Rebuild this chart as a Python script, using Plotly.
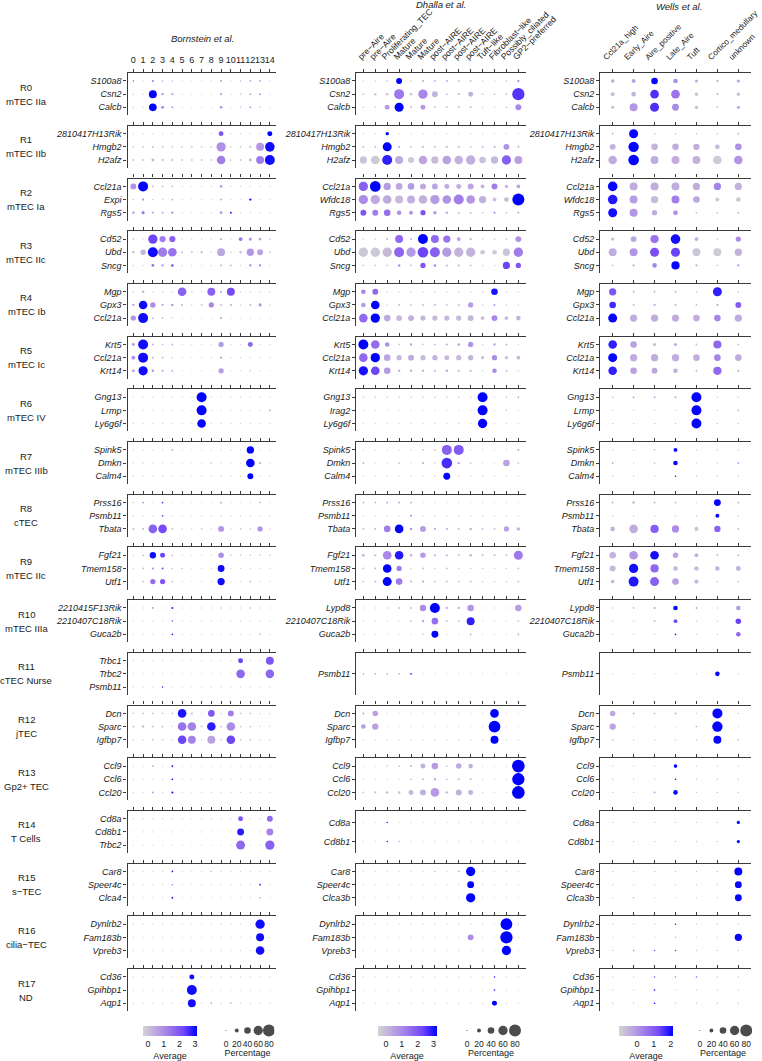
import plotly.graph_objects as go

W, H = 762, 1061

panel_ids = ["R0", "R1", "R2", "R3", "R4", "R5", "R6", "R7", "R8", "R9",
             "R10", "R11", "R12", "R13", "R14", "R15", "R16", "R17"]
panel_names = ["mTEC IIa", "mTEC IIb", "mTEC Ia", "mTEC IIc", "mTEC Ib", "mTEC Ic",
               "mTEC IV", "mTEC IIIb", "cTEC", "mTEC IIc", "mTEC IIIa", "cTEC Nurse",
               "jTEC", "Gp2+ TEC", "T Cells", "s\u2212TEC", "cilia\u2212TEC", "ND"]

bornstein_groups = ["0", "1", "2", "3", "4", "5", "6", "7", "8", "9", "10", "11", "12", "13", "14"]
dhalla_groups = ["pre\u2212Aire", "pre\u2212Aire", "Proliferating_TEC", "Mature", "Mature", "Mature",
                 "post\u2212AIRE", "post\u2212AIRE", "post\u2212AIRE", "post\u2212AIRE", "Tuft\u2212like",
                 "Fibroblast\u2212like", "Possibly_ciliated", "GP2\u2212preferred"]
wells_groups = ["Ccl21a_high", "Early_Aire", "Aire_positive", "Late_Aire", "Tuft",
                "Cortico_medullary", "unknown"]

bornstein_genes = [
    ["S100a8", "Csn2", "Calcb"], ["2810417H13Rik", "Hmgb2", "H2afz"], ["Ccl21a", "Expi", "Rgs5"],
    ["Cd52", "Ubd", "Sncg"], ["Mgp", "Gpx3", "Ccl21a"], ["Krt5", "Ccl21a", "Krt14"],
    ["Gng13", "Lrmp", "Ly6g6f"], ["Spink5", "Dmkn", "Calm4"], ["Prss16", "Psmb11", "Tbata"],
    ["Fgf21", "Tmem158", "Utf1"], ["2210415F13Rik", "2210407C18Rik", "Guca2b"], ["Trbc1", "Trbc2", "Psmb11"],
    ["Dcn", "Sparc", "Igfbp7"], ["Ccl9", "Ccl6", "Ccl20"], ["Cd8a", "Cd8b1", "Trbc2"],
    ["Car8", "Speer4c", "Clca4"], ["Dynlrb2", "Fam183b", "Vpreb3"], ["Cd36", "Gpihbp1", "Aqp1"]]
dhalla_genes = [
    ["S100a8", "Csn2", "Calcb"], ["2810417H13Rik", "Hmgb2", "H2afz"], ["Ccl21a", "Wfdc18", "Rgs5"],
    ["Cd52", "Ubd", "Sncg"], ["Mgp", "Gpx3", "Ccl21a"], ["Krt5", "Ccl21a", "Krt14"],
    ["Gng13", "Irag2", "Ly6g6f"], ["Spink5", "Dmkn", "Calm4"], ["Prss16", "Psmb11", "Tbata"],
    ["Fgf21", "Tmem158", "Utf1"], ["Lypd8", "2210407C18Rik", "Guca2b"], ["Psmb11"],
    ["Dcn", "Sparc", "Igfbp7"], ["Ccl9", "Ccl6", "Ccl20"], ["Cd8a", "Cd8b1"],
    ["Car8", "Speer4c", "Clca3b"], ["Dynlrb2", "Fam183b", "Vpreb3"], ["Cd36", "Gpihbp1", "Aqp1"]]
wells_genes = [
    ["S100a8", "Csn2", "Calcb"], ["2810417H13Rik", "Hmgb2", "H2afz"], ["Ccl21a", "Wfdc18", "Rgs5"],
    ["Cd52", "Ubd", "Sncg"], ["Mgp", "Gpx3", "Ccl21a"], ["Krt5", "Ccl21a", "Krt14"],
    ["Gng13", "Lrmp", "Ly6g6f"], ["Spink5", "Dmkn", "Calm4"], ["Prss16", "Psmb11", "Tbata"],
    ["Fgf21", "Tmem158", "Utf1"], ["Lypd8", "2210407C18Rik", "Guca2b"], ["Psmb11"],
    ["Dcn", "Sparc", "Igfbp7"], ["Ccl9", "Ccl6", "Ccl20"], ["Cd8a", "Cd8b1"],
    ["Car8", "Speer4c", "Clca3b"], ["Dynlrb2", "Fam183b", "Vpreb3"], ["Cd36", "Gpihbp1", "Aqp1"]]

# ---- Bornstein et al.: percentage expressing / average (scaled) expression ----
bornstein_pct = [
    [[2, 1, 5, 3, 3, 1, 1, 1, 1, 5, 1, 2, 4, 4, 1],
     [2, 2, 50, 8, 7, 1, 1, 1, 1, 8, 1, 2, 6, 6, 1],
     [2, 2, 48, 12, 5, 1, 1, 1, 1, 12, 1, 2, 5, 2, 1]],
    [[1, 1, 1, 1, 1, 1, 1, 1, 1, 26, 1, 1, 1, 1, 28],
     [4, 5, 7, 6, 6, 5, 5, 5, 5, 60, 3, 5, 8, 50, 62],
     [6, 7, 12, 8, 8, 6, 6, 6, 6, 55, 4, 6, 12, 50, 65]],
    [[35, 65, 4, 4, 4, 1, 1, 1, 1, 12, 1, 1, 1, 1, 1],
     [2, 8, 2, 2, 4, 1, 1, 1, 1, 5, 1, 1, 8, 1, 1],
     [8, 15, 8, 6, 8, 1, 1, 1, 1, 12, 5, 1, 1, 1, 1]],
    [[4, 2, 60, 37, 37, 2, 2, 2, 2, 8, 2, 20, 15, 12, 4],
     [8, 30, 65, 60, 55, 6, 6, 8, 3, 50, 3, 10, 45, 35, 6],
     [2, 2, 12, 8, 10, 2, 2, 2, 2, 5, 4, 2, 8, 8, 1]],
    [[3, 10, 2, 2, 2, 55, 3, 2, 50, 8, 50, 2, 2, 2, 2],
     [8, 55, 32, 8, 10, 6, 2, 4, 30, 5, 5, 2, 6, 15, 2],
     [30, 65, 5, 5, 2, 1, 1, 1, 1, 8, 1, 1, 1, 1, 1]],
    [[12, 65, 6, 4, 5, 1, 1, 1, 1, 30, 1, 1, 28, 1, 1],
     [20, 65, 5, 5, 2, 1, 1, 1, 1, 8, 1, 1, 1, 1, 1],
     [10, 60, 10, 8, 5, 1, 1, 1, 1, 30, 1, 1, 2, 1, 1]],
    [[1, 1, 1, 1, 1, 1, 1, 65, 1, 1, 1, 1, 1, 1, 1],
     [1, 1, 1, 1, 1, 1, 1, 65, 1, 1, 1, 1, 1, 1, 6],
     [1, 1, 1, 1, 1, 1, 1, 55, 1, 1, 1, 1, 1, 1, 1]],
    [[1, 1, 1, 1, 4, 1, 1, 1, 1, 1, 1, 1, 45, 1, 1],
     [1, 2, 1, 1, 1, 1, 1, 1, 3, 1, 1, 1, 55, 8, 1],
     [1, 1, 1, 1, 1, 1, 1, 1, 1, 1, 1, 1, 35, 1, 1]],
    [[2, 4, 1, 4, 1, 1, 1, 1, 1, 4, 1, 1, 1, 3, 1],
     [1, 1, 1, 4, 1, 1, 1, 1, 1, 1, 1, 1, 1, 1, 1],
     [6, 6, 55, 55, 5, 2, 2, 4, 2, 35, 2, 4, 3, 30, 2]],
    [[1, 4, 38, 28, 4, 1, 1, 1, 1, 32, 3, 3, 3, 3, 3],
     [1, 4, 6, 6, 3, 3, 1, 1, 1, 42, 1, 1, 1, 1, 1],
     [1, 4, 30, 30, 4, 1, 1, 1, 1, 45, 1, 1, 4, 1, 1]],
    [[1, 1, 4, 1, 6, 1, 1, 1, 1, 3, 1, 1, 3, 1, 1],
     [1, 1, 1, 1, 3, 1, 1, 1, 1, 1, 1, 1, 1, 1, 1],
     [1, 1, 1, 1, 4, 1, 1, 1, 1, 1, 1, 1, 1, 3, 1]],
    [[1, 1, 1, 1, 1, 1, 1, 1, 1, 1, 1, 28, 1, 1, 50],
     [1, 1, 1, 1, 1, 1, 1, 1, 1, 1, 1, 55, 1, 1, 55],
     [1, 1, 1, 3, 1, 1, 1, 1, 1, 1, 1, 1, 1, 1, 1]],
    [[3, 4, 4, 4, 4, 55, 6, 2, 40, 2, 35, 4, 4, 2, 2],
     [6, 10, 6, 5, 2, 55, 55, 5, 55, 5, 55, 4, 4, 2, 2],
     [2, 2, 4, 4, 2, 55, 50, 2, 50, 4, 55, 4, 4, 2, 2]],
    [[1, 1, 3, 1, 5, 1, 1, 1, 1, 1, 1, 1, 1, 1, 1],
     [1, 1, 1, 1, 4, 1, 1, 1, 1, 1, 1, 1, 1, 1, 1],
     [1, 1, 4, 1, 6, 1, 1, 1, 1, 1, 1, 1, 1, 1, 1]],
    [[1, 1, 1, 1, 1, 1, 1, 1, 1, 1, 1, 28, 1, 1, 35],
     [1, 1, 1, 1, 1, 1, 1, 1, 1, 1, 1, 42, 1, 1, 42],
     [1, 1, 1, 1, 1, 1, 1, 1, 1, 1, 1, 58, 1, 1, 60]],
    [[1, 1, 1, 1, 4, 1, 1, 1, 3, 1, 1, 1, 1, 1, 1],
     [1, 1, 1, 1, 2, 1, 1, 1, 1, 1, 1, 1, 1, 4, 1],
     [1, 1, 1, 1, 5, 1, 1, 1, 1, 1, 1, 1, 1, 3, 1]],
    [[1, 1, 1, 1, 1, 1, 1, 1, 1, 1, 1, 1, 1, 60, 1],
     [1, 1, 1, 1, 1, 1, 1, 1, 1, 1, 1, 1, 1, 50, 1],
     [1, 1, 1, 1, 1, 1, 1, 1, 1, 1, 1, 1, 1, 55, 1]],
    [[1, 1, 1, 1, 1, 1, 28, 1, 1, 1, 1, 1, 1, 1, 1],
     [1, 1, 1, 1, 1, 1, 65, 1, 1, 1, 1, 1, 1, 1, 1],
     [1, 1, 1, 1, 1, 1, 50, 1, 4, 1, 4, 1, 1, 1, 1]]]

bornstein_avg = [
    [[2.2, -0.3, 1.4, 0.6, 0.4, -0.3, -0.3, -0.3, -0.3, 0.8, -0.3, 0.2, 0.8, 0.8, -0.3],
     [-0.2, -0.2, 3.1, 1.0, 0.8, -0.3, -0.3, -0.3, -0.3, 0.6, -0.3, 0.0, 0.5, 0.8, -0.3],
     [-0.2, -0.2, 3.1, 1.2, 0.8, -0.3, -0.3, -0.3, -0.3, 0.8, -0.3, 0.0, 0.7, 0.0, -0.3]],
    [[-0.3, -0.3, -0.3, -0.3, -0.3, -0.3, -0.3, -0.3, -0.3, 2.1, -0.3, -0.3, -0.3, -0.3, 3.1],
     [-0.2, -0.1, 0.0, -0.1, -0.1, -0.1, -0.1, -0.1, -0.1, 0.9, -0.2, -0.1, 0.0, 0.8, 3.0],
     [-0.1, -0.1, 0.2, 0.0, 0.0, -0.1, -0.1, -0.1, -0.1, 1.3, -0.2, -0.1, 0.3, 1.3, 3.0]],
    [[0.9, 3.1, 0.2, 0.2, 0.2, -0.3, -0.3, -0.3, -0.3, 0.6, -0.3, -0.3, -0.3, -0.3, -0.3],
     [0.0, 1.0, -0.1, -0.1, 0.5, -0.3, -0.3, -0.3, -0.3, 0.5, -0.3, -0.3, 3.0, -0.3, -0.3],
     [1.0, 1.3, 0.5, 0.5, 1.0, -0.3, -0.3, -0.3, -0.3, 0.8, 2.8, -0.3, -0.3, -0.3, -0.3]],
    [[0.1, -0.2, 2.3, 1.3, 1.8, -0.2, -0.2, -0.2, -0.2, 0.3, -0.2, 1.4, 0.8, 0.6, -0.1],
     [0.2, 0.3, 3.0, 1.3, 1.5, 0.0, 0.0, 0.1, -0.2, 0.5, -0.2, 0.0, 0.8, 0.6, -0.1],
     [-0.2, -0.2, 1.5, 1.0, 2.2, -0.2, -0.2, -0.2, -0.2, 0.5, 0.4, -0.2, 1.2, 1.2, -0.3]],
    [[-0.2, 0.3, -0.2, -0.2, -0.2, 1.8, 0.0, -0.2, 1.8, 0.4, 2.2, -0.2, -0.2, -0.2, -0.2],
     [0.6, 3.0, 0.9, 0.4, 0.7, 0.4, -0.2, 0.1, 1.1, 0.2, 0.6, -0.2, 0.3, 0.8, -0.2],
     [0.9, 3.0, 0.3, 0.3, -0.1, -0.3, -0.3, -0.3, -0.3, 0.5, -0.3, -0.3, -0.3, -0.3, -0.3]],
    [[0.8, 3.0, 0.3, 0.2, 0.3, -0.3, -0.3, -0.3, -0.3, 0.7, -0.3, -0.3, 1.7, -0.3, -0.3],
     [0.9, 3.0, 0.3, 0.3, -0.1, -0.3, -0.3, -0.3, -0.3, 0.5, -0.3, -0.3, -0.3, -0.3, -0.3],
     [1.0, 3.0, 0.8, 0.5, 0.3, -0.3, -0.3, -0.3, -0.3, 0.7, -0.3, -0.3, 0.0, -0.3, -0.3]],
    [[-0.3, -0.3, -0.3, -0.3, -0.3, -0.3, -0.3, 3.1, -0.3, -0.3, -0.3, -0.3, -0.3, -0.3, -0.3],
     [-0.3, -0.3, -0.3, -0.3, -0.3, -0.3, -0.3, 3.1, -0.3, -0.3, -0.3, -0.3, -0.3, -0.3, 0.3],
     [-0.3, -0.3, -0.3, -0.3, -0.3, -0.3, -0.3, 3.1, -0.3, -0.3, -0.3, -0.3, -0.3, -0.3, -0.3]],
    [[-0.3, -0.3, -0.3, -0.3, 0.6, -0.3, -0.3, -0.3, -0.3, -0.3, -0.3, -0.3, 3.1, -0.3, -0.3],
     [-0.3, -0.1, -0.3, -0.3, -0.3, -0.3, -0.3, -0.3, 0.2, -0.3, -0.3, -0.3, 3.1, 0.4, -0.3],
     [-0.3, -0.3, -0.3, -0.3, -0.3, -0.3, -0.3, -0.3, -0.3, -0.3, -0.3, -0.3, 3.1, -0.3, -0.3]],
    [[0.0, 1.2, -0.3, 2.5, -0.3, -0.3, -0.3, -0.3, -0.3, 1.0, -0.3, -0.3, -0.3, 0.9, -0.3],
     [-0.3, -0.3, -0.3, 2.5, -0.3, -0.3, -0.3, -0.3, -0.3, -0.3, -0.3, -0.3, -0.3, -0.3, -0.3],
     [0.2, 0.2, 1.8, 2.2, 0.2, -0.2, -0.2, 0.0, -0.2, 0.8, -0.2, 0.0, -0.1, 0.8, -0.2]],
    [[-0.3, 0.2, 3.0, 2.3, 0.4, -0.3, -0.3, -0.3, -0.3, 1.0, 0.0, 0.0, 0.0, 0.0, 0.0],
     [-0.3, 0.3, 1.2, 2.2, 0.3, 0.3, -0.3, -0.3, -0.3, 3.0, -0.3, -0.3, -0.3, -0.3, -0.3],
     [-0.3, 0.2, 1.6, 2.0, 0.2, -0.3, -0.3, -0.3, -0.3, 3.0, -0.3, -0.3, 0.4, -0.3, -0.3]],
    [[-0.3, -0.3, 1.0, -0.3, 2.8, -0.3, -0.3, -0.3, -0.3, 0.3, -0.3, -0.3, 0.5, -0.3, -0.3],
     [-0.3, -0.3, -0.3, -0.3, 1.8, -0.3, -0.3, -0.3, -0.3, -0.3, -0.3, -0.3, -0.3, -0.3, -0.3],
     [-0.3, -0.3, -0.3, -0.3, 2.8, -0.3, -0.3, -0.3, -0.3, -0.3, -0.3, -0.3, -0.3, 0.6, -0.3]],
    [[-0.3, -0.3, -0.3, -0.3, -0.3, -0.3, -0.3, -0.3, -0.3, -0.3, -0.3, 2.3, -0.3, -0.3, 2.0],
     [-0.3, -0.3, -0.3, -0.3, -0.3, -0.3, -0.3, -0.3, -0.3, -0.3, -0.3, 1.7, -0.3, -0.3, 1.7],
     [-0.3, -0.3, -0.3, 2.8, -0.3, -0.3, -0.3, -0.3, -0.3, -0.3, -0.3, -0.3, -0.3, -0.3, -0.3]],
    [[-0.1, 0.0, 0.0, 0.0, 0.0, 2.9, 0.2, -0.2, 2.0, -0.2, 1.3, 0.0, 0.0, -0.2, -0.2],
     [0.0, 0.1, 0.0, 0.0, -0.2, 1.5, 1.2, 0.0, 2.8, 0.0, 1.0, 0.0, 0.0, -0.2, -0.2],
     [-0.2, -0.2, 0.0, 0.0, -0.2, 2.3, 1.2, -0.2, 0.6, 0.0, 2.3, 0.0, 0.0, -0.2, -0.2]],
    [[-0.3, -0.3, 1.0, -0.3, 3.0, -0.3, -0.3, -0.3, -0.3, -0.3, -0.3, -0.3, -0.3, -0.3, -0.3],
     [-0.3, -0.3, -0.3, -0.3, 3.0, -0.3, -0.3, -0.3, -0.3, -0.3, -0.3, -0.3, -0.3, -0.3, -0.3],
     [-0.3, -0.3, 1.0, -0.3, 3.0, -0.3, -0.3, -0.3, -0.3, -0.3, -0.3, -0.3, -0.3, -0.3, -0.3]],
    [[-0.3, -0.3, -0.3, -0.3, -0.3, -0.3, -0.3, -0.3, -0.3, -0.3, -0.3, 2.0, -0.3, -0.3, 1.6],
     [-0.3, -0.3, -0.3, -0.3, -0.3, -0.3, -0.3, -0.3, -0.3, -0.3, -0.3, 2.8, -0.3, -0.3, 1.2],
     [-0.3, -0.3, -0.3, -0.3, -0.3, -0.3, -0.3, -0.3, -0.3, -0.3, -0.3, 1.7, -0.3, -0.3, 1.8]],
    [[-0.3, -0.3, -0.3, -0.3, 2.8, -0.3, -0.3, -0.3, 0.3, -0.3, -0.3, -0.3, -0.3, -0.3, -0.3],
     [-0.3, -0.3, -0.3, -0.3, 1.5, -0.3, -0.3, -0.3, -0.3, -0.3, -0.3, -0.3, -0.3, 2.8, -0.3],
     [-0.3, -0.3, -0.3, -0.3, 2.8, -0.3, -0.3, -0.3, -0.3, -0.3, -0.3, -0.3, -0.3, 1.0, -0.3]],
    [[-0.3, -0.3, -0.3, -0.3, -0.3, -0.3, -0.3, -0.3, -0.3, -0.3, -0.3, -0.3, -0.3, 3.0, -0.3],
     [-0.3, -0.3, -0.3, -0.3, -0.3, -0.3, -0.3, -0.3, -0.3, -0.3, -0.3, -0.3, -0.3, 3.0, -0.3],
     [-0.3, -0.3, -0.3, -0.3, -0.3, -0.3, -0.3, -0.3, -0.3, -0.3, -0.3, -0.3, -0.3, 3.0, -0.3]],
    [[-0.3, -0.3, -0.3, -0.3, -0.3, -0.3, 3.0, -0.3, -0.3, -0.3, -0.3, -0.3, -0.3, -0.3, -0.3],
     [-0.3, -0.3, -0.3, -0.3, -0.3, -0.3, 3.0, -0.3, -0.3, -0.3, -0.3, -0.3, -0.3, -0.3, -0.3],
     [-0.3, -0.3, -0.3, -0.3, -0.3, -0.3, 3.0, -0.3, 0.5, -0.3, 0.3, -0.3, -0.3, -0.3, -0.3]]]

# ---- Dhalla et al. ----
dhalla_pct = [
    [[2, 2, 4, 35, 3, 5, 5, 5, 4, 4, 2, 2, 3, 8],
     [4, 10, 10, 65, 10, 60, 35, 6, 8, 28, 5, 5, 6, 82],
     [3, 3, 28, 58, 6, 28, 5, 5, 6, 6, 2, 2, 4, 35]],
    [[1, 1, 16, 1, 1, 1, 1, 1, 1, 1, 1, 1, 1, 1],
     [6, 6, 58, 8, 5, 7, 6, 7, 7, 5, 6, 8, 35, 6],
     [45, 55, 65, 50, 35, 55, 45, 55, 55, 60, 40, 45, 60, 50]],
    [[60, 70, 45, 40, 40, 35, 35, 28, 28, 35, 20, 35, 15, 20],
     [60, 60, 55, 50, 50, 55, 60, 55, 65, 55, 45, 20, 25, 80],
     [35, 35, 40, 25, 20, 30, 15, 10, 5, 5, 4, 6, 4, 5]],
    [[3, 3, 6, 50, 6, 65, 50, 45, 20, 8, 2, 3, 4, 35],
     [60, 60, 60, 65, 60, 70, 65, 60, 60, 60, 25, 25, 45, 60],
     [3, 3, 3, 10, 5, 30, 10, 6, 6, 4, 2, 2, 45, 30]],
    [[25, 35, 2, 2, 3, 2, 2, 2, 2, 2, 2, 40, 2, 2],
     [25, 55, 2, 5, 4, 5, 6, 4, 5, 30, 2, 6, 2, 2],
     [55, 60, 40, 35, 35, 30, 30, 30, 30, 35, 20, 35, 20, 25]],
    [[65, 55, 25, 4, 8, 4, 5, 6, 10, 30, 2, 8, 6, 2],
     [55, 60, 40, 30, 35, 30, 30, 28, 30, 30, 15, 30, 15, 20],
     [60, 55, 40, 10, 10, 10, 8, 10, 8, 8, 2, 25, 6, 2]],
    [[3, 3, 3, 3, 3, 3, 3, 3, 3, 3, 65, 1, 3, 5],
     [1, 1, 1, 1, 1, 1, 1, 1, 1, 1, 65, 1, 3, 1],
     [1, 1, 1, 1, 1, 1, 1, 1, 1, 1, 60, 1, 1, 1]],
    [[1, 1, 1, 1, 1, 4, 4, 65, 65, 1, 1, 1, 1, 6],
     [5, 1, 1, 4, 1, 8, 2, 70, 8, 4, 1, 1, 40, 4],
     [1, 1, 1, 1, 1, 1, 1, 42, 1, 1, 1, 1, 1, 1]],
    [[3, 3, 3, 3, 3, 1, 1, 1, 1, 1, 1, 1, 1, 1],
     [1, 1, 1, 1, 3, 1, 1, 1, 1, 1, 1, 1, 1, 1],
     [5, 6, 40, 55, 10, 35, 8, 8, 6, 10, 5, 5, 30, 15]],
    [[12, 8, 55, 55, 10, 32, 8, 8, 6, 10, 6, 6, 5, 58],
     [4, 5, 55, 30, 2, 5, 2, 4, 2, 2, 2, 2, 2, 4],
     [4, 5, 58, 40, 6, 8, 5, 6, 4, 5, 2, 2, 2, 5]],
    [[1, 1, 2, 5, 5, 38, 65, 8, 8, 40, 1, 1, 1, 40],
     [1, 1, 1, 1, 4, 8, 40, 5, 4, 50, 1, 1, 1, 4],
     [1, 1, 1, 1, 1, 3, 42, 1, 1, 4, 1, 1, 1, 4]],
    [[3, 3, 3, 3, 4, 1, 1, 1, 1, 1, 1, 1, 1, 1]],
    [[6, 32, 1, 1, 1, 1, 1, 1, 1, 1, 1, 55, 1, 1],
     [25, 38, 1, 1, 1, 1, 1, 1, 1, 1, 1, 78, 1, 1],
     [1, 1, 1, 1, 1, 1, 1, 1, 1, 1, 1, 50, 1, 1]],
    [[1, 1, 3, 4, 6, 28, 40, 5, 32, 25, 1, 1, 1, 85],
     [1, 1, 1, 1, 4, 5, 8, 4, 6, 5, 1, 1, 1, 82],
     [4, 8, 10, 10, 28, 35, 55, 10, 35, 28, 1, 1, 1, 85]],
    [[1, 1, 2, 1, 1, 1, 1, 1, 1, 1, 1, 1, 1, 1],
     [1, 1, 2, 1, 1, 1, 1, 1, 1, 1, 1, 1, 1, 1]],
    [[1, 1, 1, 1, 1, 1, 3, 1, 4, 60, 1, 1, 1, 1],
     [1, 1, 1, 1, 1, 1, 1, 1, 1, 42, 1, 1, 1, 1],
     [1, 1, 1, 1, 1, 1, 1, 1, 1, 60, 1, 1, 1, 1]],
    [[1, 1, 1, 1, 1, 1, 1, 1, 1, 1, 1, 1, 78, 1],
     [1, 1, 1, 1, 1, 1, 1, 1, 1, 35, 1, 1, 82, 1],
     [1, 1, 1, 1, 1, 1, 1, 1, 1, 1, 1, 1, 60, 1]],
    [[1, 1, 1, 1, 1, 1, 1, 1, 1, 1, 1, 2, 1, 1],
     [1, 1, 1, 1, 1, 1, 1, 1, 1, 1, 1, 3, 1, 1],
     [1, 1, 1, 1, 1, 1, 1, 1, 1, 1, 1, 28, 1, 1]]]

dhalla_avg = [
    [[-0.4, -0.4, -0.2, 3.2, -0.2, 0.5, 0.2, 0.5, 0.1, 0.2, -0.4, -0.4, 0.0, 0.8],
     [-0.3, -0.3, -0.2, 1.3, -0.1, 1.0, 0.1, -0.2, -0.2, 0.2, -0.3, -0.3, -0.2, 2.5],
     [-0.3, -0.3, 0.6, 3.2, -0.1, 0.6, -0.2, -0.1, 0.0, 0.0, -0.4, -0.4, -0.2, 1.0]],
    [[-0.5, -0.5, 3.2, -0.5, -0.5, -0.5, -0.5, -0.5, -0.5, -0.5, -0.5, -0.5, -0.5, -0.5],
     [0.0, 0.0, 3.2, 0.1, 0.0, 0.0, 0.0, 0.0, 0.0, -0.1, 0.0, 0.1, 0.8, 0.1],
     [-0.2, -0.3, 2.8, 0.3, -0.3, 0.4, -0.1, 0.5, 0.2, 0.2, -0.2, 0.0, 1.8, 0.5]],
    [[1.8, 3.2, 0.6, 0.4, 0.6, 0.3, 0.4, 0.3, 0.2, 0.4, 0.1, 1.2, 0.2, 0.3],
     [0.9, 0.3, 0.3, 0.0, 0.2, 0.2, 0.6, 0.8, 1.2, 0.7, 0.2, -0.2, 0.0, 3.2],
     [2.0, 1.2, 1.5, 0.8, 0.8, 2.0, 0.8, 0.3, 0.0, 0.0, -0.2, 1.0, -0.2, 0.5]],
    [[-0.4, -0.4, 0.2, 1.6, 0.2, 3.2, 1.6, 1.4, 0.5, 0.3, -0.4, -0.3, -0.1, 0.8],
     [-0.3, -0.3, 0.0, 1.7, 0.6, 2.3, 1.8, 0.6, 0.1, 0.1, -0.3, -0.3, -0.2, 1.2],
     [-0.2, -0.2, -0.2, 0.8, 0.0, 2.0, 1.0, 0.3, 0.5, 0.0, -0.4, -0.4, 2.3, 2.0]],
    [[1.0, 1.6, -0.4, -0.4, -0.1, -0.4, -0.4, -0.4, -0.4, -0.4, -0.4, 3.0, -0.4, -0.4],
     [0.6, 3.2, -0.4, 0.0, 0.0, 0.0, 0.1, 0.0, 0.0, 0.6, -0.4, 0.8, -0.4, -0.4],
     [1.6, 3.2, 0.3, 0.0, 0.2, 0.0, 0.0, 0.0, 0.0, 0.1, -0.1, 1.0, -0.1, 0.1]],
    [[3.2, 1.5, 0.8, -0.2, 0.6, -0.2, 0.0, 0.3, 0.5, 0.8, -0.4, 0.7, 0.2, -0.4],
     [1.6, 3.2, 0.4, 0.0, 0.3, 0.0, 0.1, 0.0, 0.0, 0.1, -0.1, 0.9, -0.1, 0.0],
     [3.0, 2.3, 0.6, 0.0, 0.1, 0.0, 0.0, 0.3, 0.1, 0.1, -0.4, 0.9, 0.0, -0.4]],
    [[-0.3, -0.3, -0.3, -0.3, -0.3, -0.3, -0.3, -0.3, -0.3, -0.3, 3.2, -0.5, -0.2, 0.2],
     [-0.5, -0.5, -0.5, -0.5, -0.5, -0.5, -0.5, -0.5, -0.5, -0.5, 3.2, -0.5, 0.0, -0.5],
     [-0.5, -0.5, -0.5, -0.5, -0.5, -0.5, -0.5, -0.5, -0.5, -0.5, 3.2, -0.5, -0.5, -0.5]],
    [[-0.5, -0.5, -0.5, -0.5, -0.5, 0.0, -0.1, 1.8, 1.9, -0.5, -0.5, -0.5, -0.5, 0.2],
     [0.1, -0.5, -0.5, 0.0, -0.5, 0.2, -0.3, 2.6, 0.5, -0.1, -0.5, -0.5, 0.5, -0.1],
     [-0.5, -0.5, -0.5, -0.5, -0.5, -0.5, -0.5, 3.2, -0.5, -0.5, -0.5, -0.5, -0.5, -0.5]],
    [[0.8, 0.8, 1.0, 1.2, 1.2, -0.5, -0.5, -0.5, -0.5, -0.5, -0.5, -0.5, -0.5, -0.5],
     [-0.5, -0.5, -0.5, -0.5, 2.5, -0.5, -0.5, -0.5, -0.5, -0.5, -0.5, -0.5, -0.5, -0.5],
     [0.0, 0.0, 1.2, 3.2, 0.6, 0.6, 0.2, 0.2, 0.1, 0.2, 0.0, 0.0, 0.5, 0.3]],
    [[0.1, 0.0, 1.0, 2.9, 0.2, 0.6, 0.1, 0.0, 0.0, 0.1, 0.0, 0.0, -0.1, 1.3],
     [0.0, 0.1, 3.2, 1.2, -0.3, 0.0, -0.3, 0.0, -0.3, -0.3, -0.3, -0.3, -0.3, 0.0],
     [0.0, 0.1, 3.2, 1.3, 0.2, 0.3, 0.0, 0.1, 0.0, 0.0, -0.3, -0.3, -0.3, 0.1]],
    [[-0.5, -0.5, -0.3, 0.0, 0.0, 0.9, 3.2, 0.2, 0.2, 0.7, -0.5, -0.5, -0.5, 0.5],
     [-0.5, -0.5, -0.5, -0.5, 0.0, 0.6, 1.5, 0.0, 0.0, 2.8, -0.5, -0.5, -0.5, 0.0],
     [-0.5, -0.5, -0.5, -0.5, -0.5, 0.2, 3.2, -0.5, -0.5, 0.5, -0.5, -0.5, -0.5, 0.5]],
    [[0.8, 0.8, 0.8, 0.8, 2.8, -0.5, -0.5, -0.5, -0.5, -0.5, -0.5, -0.5, -0.5, -0.5]],
    [[0.3, 0.5, -0.5, -0.5, -0.5, -0.5, -0.5, -0.5, -0.5, -0.5, -0.5, 3.2, -0.5, -0.5],
     [0.6, 0.5, -0.5, -0.5, -0.5, -0.5, -0.5, -0.5, -0.5, -0.5, -0.5, 3.2, -0.5, -0.5],
     [-0.5, -0.5, -0.5, -0.5, -0.5, -0.5, -0.5, -0.5, -0.5, -0.5, -0.5, 3.2, -0.5, -0.5]],
    [[-0.5, -0.5, -0.2, -0.1, 0.0, 0.2, 0.6, -0.1, 0.3, 0.2, -0.5, -0.5, -0.5, 3.2],
     [-0.5, -0.5, -0.5, -0.5, -0.1, 0.0, 0.5, -0.1, 0.1, 0.1, -0.5, -0.5, -0.5, 3.2],
     [-0.2, -0.1, -0.1, -0.1, 0.0, 0.2, 0.6, -0.1, 0.2, 0.1, -0.5, -0.5, -0.5, 3.2]],
    [[-0.5, -0.5, 3.0, -0.5, -0.5, -0.5, -0.5, -0.5, -0.5, -0.5, -0.5, -0.5, -0.5, -0.5],
     [-0.5, -0.5, 3.0, 0.8, -0.5, -0.5, -0.5, -0.5, -0.5, -0.5, -0.5, -0.5, -0.5, -0.5]],
    [[-0.5, -0.5, -0.5, -0.5, -0.5, -0.5, 0.0, -0.5, 0.3, 3.2, -0.5, -0.5, -0.5, -0.5],
     [-0.5, -0.5, -0.5, -0.5, -0.5, -0.5, -0.5, -0.5, -0.5, 3.2, -0.5, -0.5, -0.5, -0.5],
     [-0.5, -0.5, -0.5, -0.5, -0.5, -0.5, -0.5, -0.5, -0.5, 3.2, -0.5, -0.5, -0.5, -0.5]],
    [[-0.5, -0.5, -0.5, -0.5, -0.5, -0.5, -0.5, -0.5, -0.5, -0.5, -0.5, -0.5, 3.2, -0.5],
     [-0.5, -0.5, -0.5, -0.5, -0.5, -0.5, -0.5, -0.5, -0.5, 0.9, -0.5, -0.5, 3.2, -0.5],
     [-0.5, -0.5, -0.5, -0.5, -0.5, -0.5, -0.5, -0.5, -0.5, -0.5, -0.5, -0.5, 3.2, -0.5]],
    [[-0.5, -0.5, -0.5, -0.5, -0.5, -0.5, -0.5, -0.5, -0.5, -0.5, -0.5, 3.0, -0.5, -0.5],
     [-0.5, -0.5, -0.5, -0.5, -0.5, -0.5, -0.5, -0.5, -0.5, -0.5, -0.5, 3.0, -0.5, -0.5],
     [-0.5, -0.5, -0.5, -0.5, -0.5, -0.5, -0.5, -0.5, -0.5, -0.5, -0.5, 3.2, -0.5, -0.5]]]

# ---- Wells et al. ----
wells_pct = [
    [[17, 20, 40, 25, 15, 8, 15], [20, 25, 55, 55, 15, 8, 15], [15, 50, 58, 42, 15, 5, 15]],
    [[4, 58, 3, 3, 2, 2, 4], [35, 68, 40, 40, 38, 25, 40], [55, 70, 50, 50, 50, 55, 55]],
    [[62, 50, 50, 50, 45, 45, 45], [62, 50, 45, 50, 40, 20, 25], [58, 50, 30, 25, 4, 4, 6]],
    [[15, 35, 52, 62, 20, 5, 30], [50, 50, 58, 58, 50, 50, 45], [4, 8, 25, 52, 8, 3, 8]],
    [[45, 5, 5, 5, 3, 58, 3], [40, 6, 8, 6, 4, 6, 35], [58, 45, 45, 45, 40, 40, 45]],
    [[55, 40, 15, 15, 5, 52, 5], [58, 45, 45, 45, 40, 40, 40], [55, 40, 35, 25, 6, 52, 8]],
    [[3, 5, 5, 5, 65, 1, 1], [1, 1, 1, 1, 65, 1, 4], [1, 1, 1, 1, 65, 1, 1]],
    [[1, 1, 3, 20, 1, 1, 1], [4, 1, 3, 25, 1, 1, 5], [1, 1, 1, 3, 1, 1, 1]],
    [[6, 10, 6, 5, 1, 42, 5], [1, 1, 1, 1, 1, 20, 1], [25, 55, 52, 45, 22, 38, 5]],
    [[40, 55, 55, 32, 20, 5, 6], [35, 60, 52, 25, 25, 25, 28], [18, 65, 58, 40, 22, 3, 4]],
    [[3, 4, 5, 25, 5, 1, 25], [1, 1, 4, 20, 1, 1, 32], [1, 1, 1, 4, 1, 1, 25]],
    [[1, 1, 1, 1, 1, 25, 1]],
    [[32, 6, 4, 6, 1, 65, 1], [38, 1, 1, 1, 4, 68, 1], [3, 1, 1, 1, 1, 50, 3]],
    [[1, 1, 1, 18, 1, 1, 1], [1, 1, 1, 3, 1, 1, 1], [1, 1, 4, 25, 1, 1, 1]],
    [[1, 1, 1, 1, 1, 1, 15], [1, 1, 1, 1, 1, 1, 15]],
    [[1, 1, 1, 1, 1, 1, 50], [1, 1, 1, 1, 1, 1, 42], [1, 3, 1, 1, 1, 1, 42]],
    [[1, 1, 1, 2, 1, 1, 1], [1, 1, 1, 2, 1, 1, 45], [1, 2, 3, 2, 1, 1, 1]],
    [[1, 1, 2, 2, 2, 1, 1], [1, 1, 3, 1, 1, 1, 1], [1, 1, 3, 1, 1, 1, 1]]]

wells_avg = [
    [[-0.3, -0.2, 2.1, 0.2, -0.4, -0.5, -0.3], [-0.7, -0.5, 1.6, 0.6, -0.6, -0.8, -0.6],
     [-0.7, 0.0, 1.6, 0.2, -0.6, -0.8, -0.4]],
    [[-0.3, 2.1, -0.5, -0.5, -0.6, -0.6, -0.3], [-0.5, 2.1, -0.5, -0.4, -0.4, -0.6, 0.1],
     [-0.4, 2.1, -0.4, -0.4, -0.5, -0.9, 0.0]],
    [[2.1, -0.4, -0.4, -0.4, -0.4, 0.3, -0.5], [1.9, -0.1, -0.6, 0.4, -0.3, -0.9, -0.8],
     [2.0, 0.0, -0.4, 0.2, -0.6, -0.7, -0.6]],
    [[-0.6, -0.3, 0.6, 2.0, -0.4, -0.8, 0.2], [-0.4, 0.0, 1.2, 1.4, -0.8, -0.9, -0.5],
     [-0.6, -0.4, 0.3, 2.1, -0.5, -0.8, -0.1]],
    [[1.1, -0.5, -0.5, -0.5, -0.6, 1.8, -0.5], [1.7, -0.6, -0.3, -0.4, -0.6, -0.1, 1.0],
     [2.1, -0.4, -0.4, -0.4, -0.4, 0.3, -0.4]],
    [[1.8, -0.2, -0.6, -0.4, -0.7, 0.8, -0.6], [2.1, -0.4, -0.4, -0.4, -0.4, 0.3, -0.4],
     [1.8, -0.2, -0.3, -0.4, -0.6, 0.8, -0.5]],
    [[-0.5, -0.3, -0.3, -0.3, 2.1, -0.7, -0.7], [-0.7, -0.7, -0.7, -0.7, 2.1, -0.7, -0.3],
     [-0.7, -0.7, -0.7, -0.7, 2.1, -0.7, -0.7]],
    [[-0.7, -0.7, -0.4, 2.1, -0.7, -0.7, -0.7], [-0.2, -0.7, -0.3, 2.1, -0.7, -0.7, -0.1],
     [-0.7, -0.7, -0.7, 2.0, -0.7, -0.7, -0.7]],
    [[-0.5, -0.5, -0.5, -0.5, -0.7, 2.1, -0.4], [-0.7, -0.7, -0.7, -0.7, -0.7, 2.1, -0.7],
     [-0.5, -0.4, 1.0, 0.2, -0.8, 0.9, -0.6]],
    [[-0.5, 0.0, 2.0, -0.2, -0.5, -0.6, -0.5], [-0.6, 2.0, 0.8, -0.5, -0.7, -0.5, -0.5],
     [-0.6, 1.9, 0.9, -0.2, -0.6, -0.8, -0.6]],
    [[-0.6, -0.5, 0.0, 2.1, -0.2, -0.7, -0.1], [-0.7, -0.7, -0.4, 1.3, -0.7, -0.7, 1.4],
     [-0.7, -0.7, -0.7, 1.7, -0.7, -0.7, 0.8]],
    [[-0.7, -0.7, -0.7, -0.7, -0.7, 2.1, -0.7]],
    [[-0.3, -0.5, -0.6, -0.5, -0.7, 2.1, -0.7], [-0.2, -0.7, -0.7, -0.7, -0.5, 2.1, -0.7],
     [-0.3, -0.7, -0.7, -0.7, -0.7, 2.1, -0.3]],
    [[-0.7, -0.7, -0.7, 2.1, -0.7, -0.7, -0.7], [-0.7, -0.7, -0.7, 2.1, -0.7, -0.7, -0.7],
     [-0.7, -0.7, -0.1, 2.1, -0.7, -0.7, -0.7]],
    [[-0.7, -0.7, -0.7, -0.7, -0.7, -0.7, 2.1], [-0.7, -0.7, -0.7, -0.7, -0.7, -0.7, 2.1]],
    [[-0.7, -0.7, -0.7, -0.7, -0.7, -0.7, 2.1], [-0.7, -0.7, -0.7, -0.7, -0.7, -0.7, 2.1],
     [-0.7, -0.5, -0.7, -0.7, -0.7, -0.7, 2.1]],
    [[-0.7, -0.7, -0.7, 2.0, -0.7, -0.7, -0.7], [-0.7, -0.7, -0.7, -0.3, -0.7, -0.7, 2.1],
     [-0.7, 0.5, 1.0, 1.5, -0.7, -0.7, -0.7]],
    [[-0.7, -0.7, 1.5, 0.5, 1.0, -0.7, -0.7], [-0.7, -0.7, 2.1, -0.7, -0.7, -0.7, -0.7],
     [-0.7, -0.7, 2.1, -0.7, -0.7, -0.7, -0.7]]]

legend_pcts = [0, 20, 40, 60, 80]

# ------------------------------------------------------------------ styling
FONT = "Liberation Sans, Arial, sans-serif"
LINE = "#3a3a3a"
TXT = "#1a1a1a"
COLORSCALE = [[0.0, "#D3D3D3"], [0.25, "#BCA5E0"], [0.5, "#9D77EC"], [0.75, "#7248F6"], [1.0, "#0000FF"]]


def dot_size(p):
    return 1.2 + 0.135 * p


datasets = [
    dict(title="Bornstein et al.", groups=bornstein_groups, genes=bornstein_genes,
         pct=bornstein_pct, avg=bornstein_avg, x0=127.5, x1=275.7, cmin=-0.32, cmax=3.12,
         cb_x=170, cb_len=54, cb_ticks=[0, 1, 2, 3], leg=(220.7, 274.3), title_xy=(202, 39),
         angle=0, tfs=9, shift=0, standoff=2),
    dict(title="Dhalla et al.", groups=dhalla_groups, genes=dhalla_genes,
         pct=dhalla_pct, avg=dhalla_avg, x0=356.2, x1=525.5, cmin=-0.53, cmax=3.19,
         cb_x=407, cb_len=59, cb_ticks=[0, 1, 2, 3], leg=(461, 521), title_xy=(441, 5),
         angle=-45, tfs=8.6, shift=-5, standoff=4),
    dict(title="Wells et al.", groups=wells_groups, genes=wells_genes,
         pct=wells_pct, avg=wells_avg, x0=600.1, x1=750.9, cmin=-1.06, cmax=2.14,
         cb_x=646, cb_len=54, cb_ticks=[0, 1, 2], leg=(694, 752), title_xy=(679, 7),
         angle=-45, tfs=8.2, shift=-9, standoff=4),
]

TOP0, STEP, PH = 73.1, 52.7, 42.1

fig = go.Figure()
layout = dict(width=W, height=H, autosize=False, margin=dict(l=0, r=0, t=0, b=0, pad=0, autoexpand=False),
              paper_bgcolor="white", plot_bgcolor="white", showlegend=False,
              font=dict(family=FONT, color=TXT), annotations=[])


def ax_name(k, kind):
    return kind + ("" if k == 1 else str(k))


for d, ds in enumerate(datasets):
    ng = len(ds["groups"])
    cax = "coloraxis" + ("" if d == 0 else str(d + 1))
    for r in range(len(panel_ids)):
        k = r * 3 + d + 1
        genes = ds["genes"][r]
        assert len(ds["pct"][r]) == len(genes) and len(ds["avg"][r]) == len(genes), (d, r)
        xs, ys, sz, cl = [], [], [], []
        for gi in range(len(genes)):
            assert len(ds["pct"][r][gi]) == ng and len(ds["avg"][r][gi]) == ng, (d, r, gi)
            for ci in range(ng):
                xs.append(ci)
                ys.append(gi)
                sz.append(dot_size(ds["pct"][r][gi][ci]))
                cl.append(ds["avg"][r][gi][ci])
        fig.add_trace(go.Scatter(
            x=xs, y=ys, mode="markers", xaxis=ax_name(k, "x"), yaxis=ax_name(k, "y"),
            marker=dict(size=sz, color=cl, coloraxis=cax, line=dict(width=0), opacity=1),
            hoverinfo="skip", showlegend=False))
        top = TOP0 + STEP * r
        layout[ax_name(k, "xaxis")] = dict(
            domain=[ds["x0"] / W, ds["x1"] / W], anchor=ax_name(k, "y"), side="top",
            range=[-0.6, ng - 0.4], tickmode="array", tickvals=list(range(ng)),
            ticktext=ds["groups"], showticklabels=(r == 0), tickangle=ds["angle"],
            tickfont=dict(size=ds["tfs"], color=TXT, family=FONT), automargin=False,
            ticklabeloverflow="allow", ticklabelshift=ds["shift"], ticklabelstandoff=ds["standoff"],
            ticks="outside", ticklen=3, tickwidth=1, tickcolor=LINE,
            showline=True, linecolor=LINE, linewidth=1.2, showgrid=False, zeroline=False,
            fixedrange=True)
        layout[ax_name(k, "yaxis")] = dict(
            domain=[1 - (top + PH) / H, 1 - top / H], anchor=ax_name(k, "x"),
            range=[len(genes) - 0.4, -0.6], tickmode="array", tickvals=list(range(len(genes))),
            ticktext=["<i>%s</i>" % g for g in genes], automargin=False,
            ticklabeloverflow="allow",
            tickfont=dict(size=9, color=TXT, family=FONT),
            ticks="outside", ticklen=3, tickwidth=1, tickcolor=LINE,
            showline=True, linecolor=LINE, linewidth=1.2, showgrid=False, zeroline=False,
            fixedrange=True)

    # colour axis + horizontal colourbar
    layout[cax] = dict(
        colorscale=COLORSCALE, cmin=ds["cmin"], cmax=ds["cmax"],
        colorbar=dict(orientation="h", x=ds["cb_x"] / W, xanchor="center",
                      y=1 - 1026 / H, yanchor="top", len=ds["cb_len"], lenmode="pixels",
                      thickness=10, outlinewidth=0, xpad=0, ypad=0,
                      tickvals=ds["cb_ticks"], ticks="", tickfont=dict(size=9, color=TXT),
                      title=dict(text="Average", side="bottom", font=dict(size=9, color=TXT))))

    # size legend on its own small axis
    k = 55 + d
    fig.add_trace(go.Scatter(
        x=legend_pcts, y=[0] * len(legend_pcts), mode="markers",
        xaxis=ax_name(k, "x"), yaxis=ax_name(k, "y"),
        marker=dict(size=[dot_size(p) for p in legend_pcts], color="black", line=dict(width=0)),
        hoverinfo="skip", showlegend=False))
    layout[ax_name(k, "xaxis")] = dict(
        domain=[ds["leg"][0] / W, ds["leg"][1] / W], anchor=ax_name(k, "y"),
        range=[-10, 90], tickmode="array", tickvals=legend_pcts, tickangle=0, automargin=False,
        ticklabeloverflow="allow",
        ticktext=[str(p) for p in legend_pcts], ticks="", showline=False, showgrid=False,
        zeroline=False, tickfont=dict(size=8.5, color=TXT),
        title=dict(text="Percentage", font=dict(size=9, color=TXT), standoff=2), fixedrange=True)
    layout[ax_name(k, "yaxis")] = dict(
        domain=[1 - 1037 / H, 1 - 1024 / H], anchor=ax_name(k, "x"), range=[-1, 1],
        visible=False, fixedrange=True, automargin=False)

    layout["annotations"].append(dict(
        text="<i>%s</i>" % ds["title"], x=ds["title_xy"][0] / W, y=1 - ds["title_xy"][1] / H,
        xref="paper", yref="paper", xanchor="center", yanchor="middle", showarrow=False,
        font=dict(size=9.5, color=TXT, family=FONT)))

# row labels
for r in range(len(panel_ids)):
    cy = TOP0 + STEP * r + PH / 2
    for txt, off in ((panel_ids[r], -7), (panel_names[r], 7)):
        layout["annotations"].append(dict(
            text=txt, x=26 / W, y=1 - (cy + off) / H, xref="paper", yref="paper",
            xanchor="center", yanchor="middle", showarrow=False,
            font=dict(size=9.5, color=TXT, family=FONT)))

fig.update_layout(**layout)

POST = ("document.documentElement.style.margin='0';document.documentElement.style.padding='0';"
        "document.documentElement.style.overflow='hidden';"
        "document.body.style.margin='0';document.body.style.padding='0';document.body.style.overflow='hidden';"
        "var gd=document.getElementById('{plot_id}');"
        "Plotly.relayout(gd,{width:%d,height:%d});" % (W, H))
fig.write_html("out.html", config={"responsive": False, "displayModeBar": False}, post_script=POST)
